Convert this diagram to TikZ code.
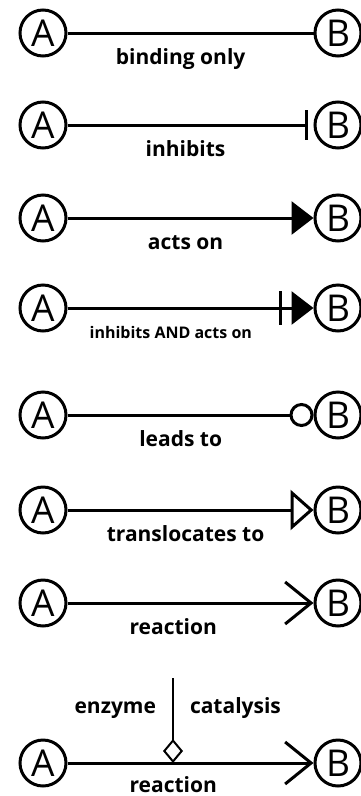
\documentclass[tikz,border=0pt]{standalone}
\usepackage{fontspec}
\setmainfont{Open Sans}
\usetikzlibrary{arrows.meta,positioning}

\begin{document}
\begin{tikzpicture}[x=1pt,y=-1pt,line width=3pt,node distance=295pt,
                    ent/.style={circle,draw,line width=3pt,minimum size=46pt,
                                inner sep=0pt,font=\fontsize{37}{37}\selectfont},
                    lbl/.style={anchor=base,yshift=-31pt,inner sep=1pt,
                                font=\bfseries\fontsize{21}{21}\selectfont},
                    small/.style={lbl,yshift=1pt,font=\bfseries\fontsize{16}{16}\selectfont},
                    side/.style={inner sep=1pt,font=\bfseries\fontsize{21}{21}\selectfont},
                    inhibit/.style={-{Bar[width=30pt]},shorten >=6pt},
                    acts/.style={-{Triangle[width=33pt,length=22pt]}},
                    inhback/.style={-{Bar[width=34pt]},shorten >=32pt},
                    leads/.style={-{Circle[open,length=24pt]}},
                    transl/.style={-{Triangle[open,width=40pt,length=23pt]}},
                    react/.style={-{Straight Barb[length=26pt,width=42pt]}},
                    catal/.style={-{Diamond[open,length=24pt,width=20pt]},line width=2pt}]
  \useasboundingbox (0,0) rectangle (360,796);

  \node[ent] (a1) at (43,33)  {A};
  \node[ent] (b1) [right of=a1] {B};
  \node[ent] (a2) at (43,125) {A};
  \node[ent] (b2) [right of=a2] {B};
  \node[ent] (a3) at (43,218) {A};
  \node[ent] (b3) [right of=a3] {B};
  \node[ent] (a4) at (43,308) {A};
  \node[ent] (b4) [right of=a4] {B};
  \node[ent] (a5) at (43,415) {A};
  \node[ent] (b5) [right of=a5] {B};
  \node[ent] (a6) at (43,510) {A};
  \node[ent] (b6) [right of=a6] {B};
  \node[ent] (a7) at (43,603) {A};
  \node[ent] (b7) [right of=a7] {B};
  \node[ent] (a8) at (43,763) {A};
  \node[ent] (b8) [right of=a8] {B};

  \coordinate (e8) at (173,678);
  \coordinate (m8) at (173,763);

  \path (a1) edge                node[lbl,pos=.46]   {binding only} (b1);
  \path (a2) edge[inhibit]       node[lbl,pos=.48]   {inhibits} (b2);
  \path (a3) edge[acts]          node[lbl,pos=.48]   {acts on} (b3);
  \path (a4) edge[acts]          node[small,pos=.42] {inhibits AND acts on} (b4)
             edge[inhback]       (b4);
  \path (a5) edge[leads]         node[lbl,pos=.46]   {leads to} (b5);
  \path (a6) edge[transl]        node[lbl,pos=.48]   {translocates to} (b6);
  \path (a7) edge[react]         node[lbl,pos=.43]   {reaction} (b7);
  \path (a8) edge[react]         node[lbl,pos=.43,yshift=2pt] {reaction} (b8);

  \path (e8) edge[catal] node[side,anchor=base east,pos=.42,xshift=-15pt] {enzyme}
                         node[side,anchor=base west,pos=.42,xshift=15pt]  {catalysis} (m8);

\end{tikzpicture}
\end{document}
